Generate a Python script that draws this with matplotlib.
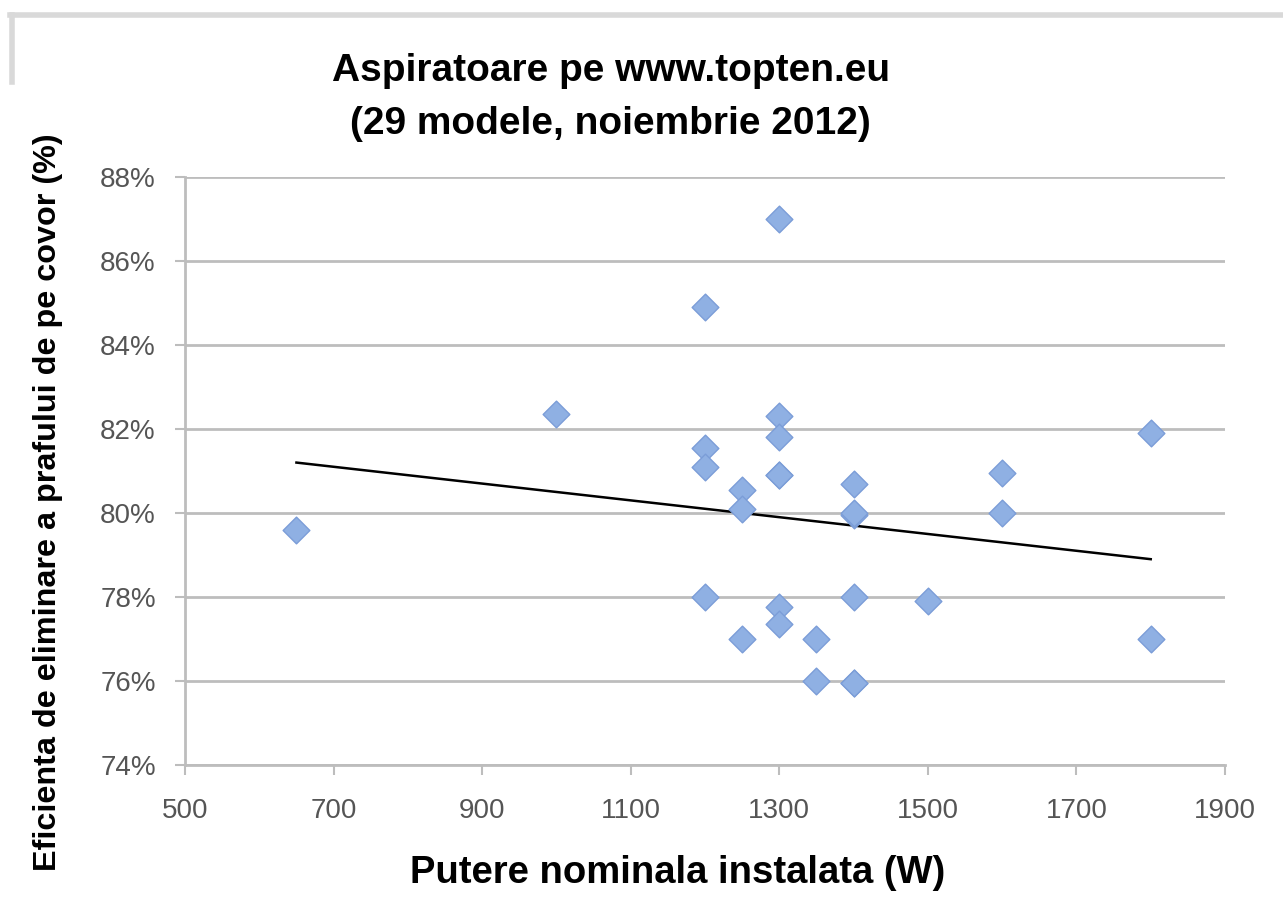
import numpy as np
import matplotlib.pyplot as plt
from matplotlib.lines import Line2D
from matplotlib.ticker import FuncFormatter

# putere nominala (W) si eficienta (%) - 29 modele
putere = [650, 1000, 1200, 1200, 1200, 1200, 1250, 1250, 1250,
          1300, 1300, 1300, 1300, 1300, 1300, 1300,
          1350, 1350, 1400, 1400, 1400, 1400, 1400, 1400,
          1500, 1600, 1600, 1800, 1800]
eficienta = [79.6, 82.35, 84.9, 81.55, 81.1, 78.0, 80.55, 80.1, 77.0,
             87.0, 82.3, 81.8, 80.9, 80.9, 77.75, 77.35,
             77.0, 76.0, 80.7, 79.95, 78.0, 75.95, 75.95, 80.0,
             77.9, 80.95, 80.0, 81.9, 77.0]

# linie de tendinta
trend_x = [650, 1800]
trend_y = [81.2, 78.9]

x_ticks = [500, 700, 900, 1100, 1300, 1500, 1700, 1900]
y_ticks = [74, 76, 78, 80, 82, 84, 86, 88]

plt.rcParams['font.family'] = ['Liberation Sans', 'DejaVu Sans']

fig = plt.figure(figsize=(12.83, 9.08), dpi=100)
ax = fig.add_axes([0.1442, 0.1575, 0.8106, 0.6476])

# chenar gri (fundal)
fig.add_artist(Line2D([0.008, 1.0], [0.984, 0.984], color='#d9d9d9', lw=4, transform=fig.transFigure))
fig.add_artist(Line2D([0.0095, 0.0095], [0.984, 0.91], color='#d9d9d9', lw=4, transform=fig.transFigure))

ax.scatter(putere, eficienta, marker='D', s=185, color='#8fb0e3',
           edgecolors='#7b9dd8', linewidths=1, zorder=3)
ax.plot(trend_x, trend_y, color='black', lw=1.8, zorder=2)

ax.set_xlim(500, 1900)
ax.set_ylim(74, 88)
ax.set_xticks(x_ticks)
ax.set_yticks(y_ticks)
ax.yaxis.set_major_formatter(FuncFormatter(lambda v, p: f'{v:.0f}%'))
ax.grid(axis='y', color='#bdbdbd', lw=2)
ax.set_axisbelow(True)

for s in ['top', 'right']:
    ax.spines[s].set_visible(False)
for s in ['left', 'bottom']:
    ax.spines[s].set_color('#bdbdbd')
    ax.spines[s].set_linewidth(2)
ax.tick_params(axis='both', colors='#bdbdbd', length=7, width=1.5,
               labelcolor='#555555', labelsize=20)
ax.tick_params(axis='x', pad=17)
ax.tick_params(axis='y', pad=14)

fig.text(0.476, 1 - 81 / 908, 'Aspiratoare pe www.topten.eu', ha='center', va='baseline',
         fontsize=28, fontweight='bold')
fig.text(0.476, 1 - 134 / 908, '(29 modele, noiembrie 2012)', ha='center', va='baseline',
         fontsize=28, fontweight='bold')
fig.text(678 / 1283, 1 - 883 / 908, 'Putere nominala instalata (W)', ha='center',
         va='baseline', fontsize=27.5, fontweight='bold')
fig.text(48 / 1283, 1 - 502 / 908, 'Eficienta de eliminare a prafului de pe covor (%)',
         ha='center', va='center', rotation=90, fontsize=23.3, fontweight='bold')

fig.savefig('out.png', dpi=100)
